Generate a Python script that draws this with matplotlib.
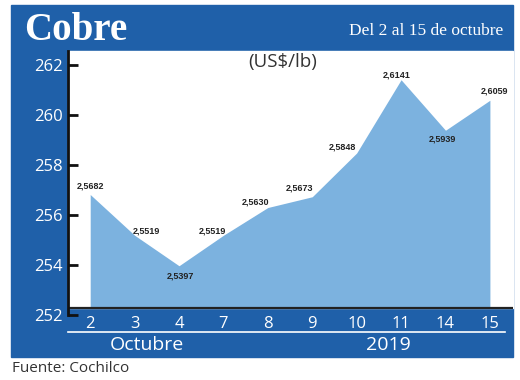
import matplotlib.pyplot as plt
from matplotlib.patches import Rectangle
from matplotlib.lines import Line2D

dias = ["2", "3", "4", "7", "8", "9", "10", "11", "14", "15"]
precios = [256.82, 255.19, 253.97, 255.19, 256.30, 256.73, 258.48, 261.41, 259.39, 260.59]
etiquetas = ["2,5682", "2,5519", "2,5397", "2,5519", "2,5630", "2,5673", "2,5848", "2,6141", "2,5939", "2,6059"]
ticks_y = [252, 254, 256, 258, 260, 262]

# where each value label sits relative to its point (pixels)
offsets = [(0, 8), (12, 4), (1, -10), (-11, 4), (-12, 6), (-13, 9), (-14, 6), (-4, 5), (-3, -9), (5, 9)]

W, H = 520, 380
azul = "#1f60a9"
celeste = "#7cb2df"
sans = ["Open Sans", "DejaVu Sans"]
serif = ["Liberation Serif", "DejaVu Serif"]

fig = plt.figure(figsize=(W / 100, H / 100), dpi=100)
fig.patch.set_facecolor("white")

def box(x0, y0, x1, y1, color, z):
    fig.patches.append(Rectangle((x0 / W, 1 - y1 / H), (x1 - x0) / W, (y1 - y0) / H,
                                 transform=fig.transFigure, color=color, zorder=z))

box(11, 5, 513, 357, azul, -3)
box(68, 51, 513, 308, "white", -2)

ax = fig.add_axes([68 / W, 1 - 315 / H, (513 - 68) / W, (315 - 51) / H])
ax.set_facecolor("none")
x = list(range(len(dias)))
ax.fill_between(x, precios, 252.28, color=celeste, lw=0)
ax.axhline(252.28, color="#222222", lw=1.6)
ax.set_xlim(-0.5, 9.52)
ax.set_ylim(252, 262.56)

for i in x:
    ax.annotate(etiquetas[i], (i, precios[i]), xytext=offsets[i], textcoords="offset pixels",
                ha="center", va="center", fontsize=6.5, fontweight="bold",
                family=["Liberation Sans", "DejaVu Sans"], color="#222222")

for s in ["top", "right", "bottom"]:
    ax.spines[s].set_visible(False)
ax.spines["left"].set_color("#111111")
ax.spines["left"].set_linewidth(2)

ax.set_yticks(ticks_y)
ax.set_yticklabels([str(t) for t in ticks_y], family=sans, fontsize=12, color="white")
ax.tick_params(axis="y", direction="in", length=7, width=2, color="#111111", pad=4)
ax.set_xticks(x)
ax.set_xticklabels(dias, family=sans, fontsize=12, color="white")
ax.tick_params(axis="x", length=0, pad=1)

fig.text(24 / W, 1 - 40 / H, "Cobre", family=serif,
         fontsize=28, fontweight="bold", color="white", va="baseline")
fig.text(503 / W, 1 - 35 / H, "Del 2 al 15 de octubre", family=serif,
         fontsize=12.5, color="white", ha="right", va="baseline")
fig.text(283 / W, 1 - 62 / H, "(US$/lb)", family=sans, fontsize=13.5,
         color="#333333", ha="center", va="center")
fig.lines.append(Line2D([68 / W, 505 / W], [1 - 332 / H] * 2, transform=fig.transFigure,
                        color="white", lw=1.2))
fig.text(147 / W, 1 - 345 / H, "Octubre", family=sans, fontsize=14,
         color="white", ha="center", va="center")
fig.text(388 / W, 1 - 345 / H, "2019", family=sans, fontsize=14,
         color="white", ha="center", va="center")
fig.text(12 / W, 1 - 368 / H, "Fuente: Cochilco", family=sans, fontsize=11,
         color="#333333", va="center")

fig.savefig("out.png", dpi=100)
